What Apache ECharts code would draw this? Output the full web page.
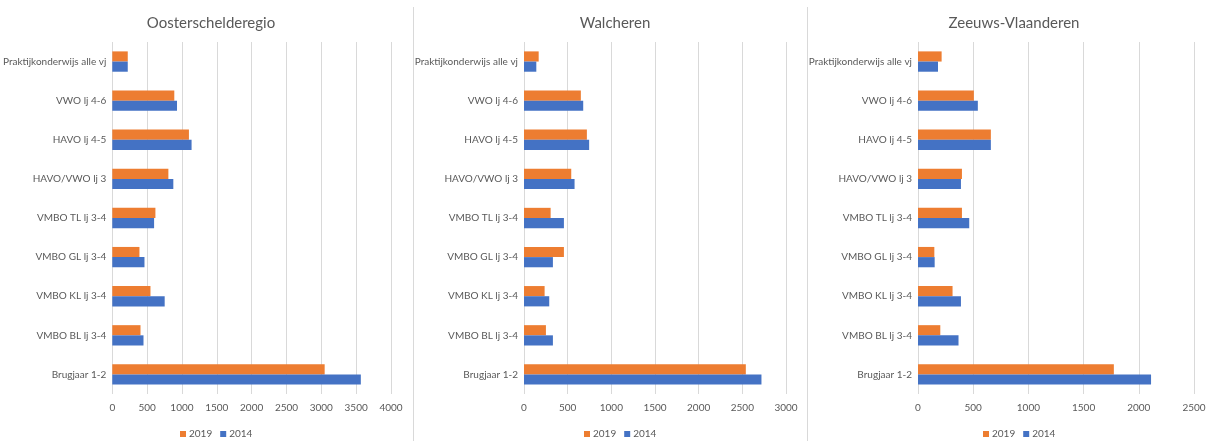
<!DOCTYPE html>
<html lang="nl" style="height: 100%">
<head>
  <meta charset="utf-8">
</head>
<body style="height: 100%; margin: 0; background: #fff">
  <div id="container" style="width: 1210px; height: 441px"></div>

  <script type="text/javascript" src="https://cdn.jsdelivr.net/npm/echarts@6/dist/echarts.min.js"></script>

  <script type="text/javascript">
    // categories, bottom to top (as in the original Excel chart)
    var categories = ['Brugjaar 1-2', 'VMBO BL lj 3-4', 'VMBO KL lj 3-4', 'VMBO GL lj 3-4',
      'VMBO TL lj 3-4', 'HAVO/VWO lj 3', 'HAVO lj 4-5', 'VWO lj 4-6', 'Praktijkonderwijs alle vj'];

    var regions = ['Oosterschelderegio', 'Walcheren', 'Zeeuws-Vlaanderen'];

    var oost2019 = [3048, 405, 548, 390, 619, 805, 1100, 890, 222];
    var oost2014 = [3567, 448, 752, 462, 600, 876, 1138, 929, 222];
    var walch2019 = [2540, 251, 236, 457, 305, 541, 720, 651, 168];
    var walch2014 = [2719, 331, 289, 331, 457, 579, 746, 678, 141];
    var zvl2019 = [1774, 202, 313, 148, 398, 398, 660, 506, 214];
    var zvl2014 = [2111, 367, 389, 151, 464, 389, 660, 542, 181];

    var axisMax = [4000, 3000, 2500];

    var dom = document.getElementById('container');
    var myChart = echarts.init(dom, null, { renderer: 'canvas' });

    var font = 'Lato, "Open Sans", sans-serif';
    var textColor = '#595959';
    var panels = [
      { left: 111, width: 280, center: 206, d19: oost2019, d14: oost2014 },
      { left: 524, width: 262, center: 610, d19: walch2019, d14: walch2014 },
      { left: 918, width: 276, center: 1009, d19: zvl2019, d14: zvl2014 }
    ];

    var option = {
      animation: false,
      title: [], grid: [], xAxis: [], yAxis: [], series: [], legend: [],
      graphic: [
        { type: 'line', shape: { x1: 413.5, y1: 7, x2: 413.5, y2: 441 }, style: { stroke: '#d9d9d9', lineWidth: 1 } },
        { type: 'line', shape: { x1: 807.5, y1: 7, x2: 807.5, y2: 441 }, style: { stroke: '#d9d9d9', lineWidth: 1 } }
      ]
    };

    panels.forEach(function (p, i) {
      option.title.push({
        text: regions[i],
        left: p.center, top: 11, textAlign: 'center',
        textStyle: { fontFamily: font, fontSize: 15, fontWeight: 'normal', color: textColor }
      });
      option.grid.push({ left: p.left, width: p.width, top: 42, bottom: 47 });
      option.xAxis.push({
        type: 'value', gridIndex: i, min: 0, max: axisMax[i], interval: 500,
        axisLine: { show: false }, axisTick: { show: false },
        axisLabel: { fontFamily: font, fontSize: 10, color: textColor, margin: 9,
          formatter: function (v) { return String(v); } },
        splitLine: { lineStyle: { color: '#d9d9d9' } }
      });
      option.yAxis.push({
        type: 'category', gridIndex: i, data: categories,
        axisLine: { show: false }, axisTick: { show: false },
        axisLabel: { fontFamily: font, fontSize: 10, color: textColor, margin: 6 }
      });
      // first series is drawn on top within each category
      option.series.push({
        name: '2019', type: 'bar', xAxisIndex: i, yAxisIndex: i, data: p.d19,
        itemStyle: { color: '#ed7d31' }, barGap: '0%', barCategoryGap: '48%'
      });
      option.series.push({
        name: '2014', type: 'bar', xAxisIndex: i, yAxisIndex: i, data: p.d14,
        itemStyle: { color: '#4472c4' }, barGap: '0%', barCategoryGap: '48%'
      });
      option.legend.push({
        data: ['2019', '2014'],
        left: p.center - 31, top: 424,
        icon: 'rect', itemWidth: 6, itemHeight: 6, itemGap: 8,
        textStyle: { fontFamily: font, fontSize: 10, color: textColor, padding: [0, 0, 0, -2] }
      });
    });

    myChart.setOption(option);
    window.addEventListener('resize', myChart.resize);
  </script>
</body>
</html>
